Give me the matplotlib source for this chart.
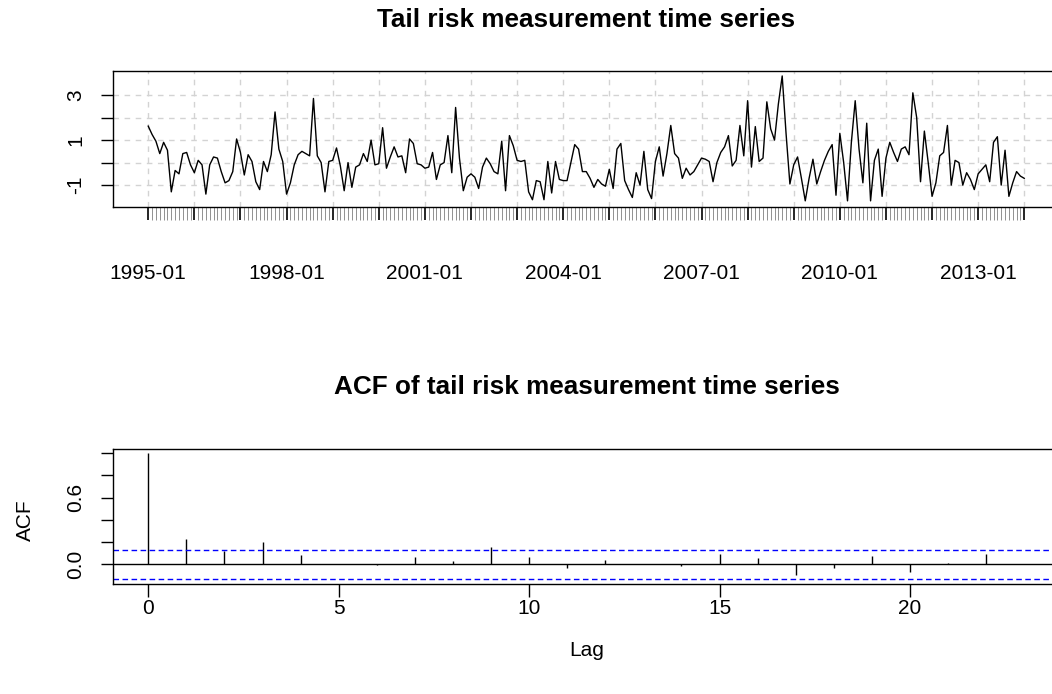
import matplotlib

matplotlib.use("Agg")
import matplotlib.pyplot as plt
import numpy as np

# monthly tail risk measure, 1995-01 .. 2014-01 (one row per year)
tail_risk = [
    1.62, 1.25, 0.95, 0.40, 0.90, 0.55, -1.30, -0.35, -0.50, 0.40, 0.45, -0.10,
    -0.45, 0.10, -0.10, -1.40, -0.10, 0.25, 0.20, -0.40, -0.90, -0.80, -0.40, 1.05,
    0.45, -0.55, 0.35, 0.05, -0.85, -1.20, 0.05, -0.40, 0.35, 2.25, 0.60, 0.05,
    -1.40, -0.90, -0.10, 0.35, 0.50, 0.40, 0.30, 2.85, 0.30, 0.00, -1.30, 0.05,
    0.10, 0.65, -0.15, -1.25, 0.00, -1.10, -0.20, -0.10, 0.40, 0.05, 1.00, -0.10,
    -0.05, 1.55, -0.25, 0.25, 0.70, 0.25, 0.30, -0.45, 1.05, 0.85, -0.05, -0.10,
    -0.25, -0.20, 0.45, -0.75, -0.10, 0.00, 1.20, -0.45, 2.45, 0.20, -1.25, -0.65,
    -0.50, -0.65, -1.15, -0.20, 0.20, -0.05, -0.40, -0.50, 0.95, -1.25, 1.20, 0.75,
    0.10, 0.05, 0.10, -1.30, -1.65, -0.80, -0.85, -1.65, 0.05, -1.35, 0.05, -0.75,
    -0.80, -0.80, 0.00, 0.80, 0.60, -0.40, -0.40, -0.70, -1.10, -0.75, -0.95, -1.05,
    -0.30, -1.15, 0.60, 0.85, -0.80, -1.20, -1.55, -0.45, -1.00, 0.50, -1.20, -1.60,
    0.05, 0.70, -0.60, 0.40, 1.65, 0.40, 0.20, -0.70, -0.25, -0.55, -0.40, -0.10,
    0.20, 0.15, 0.05, -0.85, 0.00, 0.45, 0.70, 1.20, -0.15, 0.10, 1.65, 0.30,
    2.75, -0.20, 1.60, 0.05, 0.20, 2.70, 1.50, 1.00, 2.60, 3.85, 1.30, -0.95,
    -0.10, 0.25, -0.70, -1.70, -0.70, 0.15, -0.95, -0.40, 0.10, 0.50, 0.80, -1.45,
    1.30, 0.00, -1.70, 0.90, 2.75, 0.60, -0.90, 1.75, -1.70, 0.10, 0.60, -1.50,
    0.20, 0.90, 0.45, 0.05, 0.60, 0.70, 0.35, 3.10, 2.00, -0.85, 1.40, 0.00,
    -1.50, -0.90, 0.30, 0.45, 1.65, -1.00, 0.10, 0.00, -1.00, -0.45, -0.75, -1.20,
    -0.50, -0.30, -0.10, -0.85, 0.90, 1.15, -1.00, 0.55, -1.50, -0.90, -0.40, -0.60,
    -0.70,
]
start_year = 1995
label_years = [1995, 1998, 2001, 2004, 2007, 2010, 2013]

# sample autocorrelations, lag 0..23
acf_lags = list(range(24))
acf_values = [
    1.000, 0.224, 0.119, 0.197, 0.081, 0.005, -0.004, 0.066, 0.027, 0.152,
    0.066, -0.030, 0.042, 0.003, -0.018, 0.093, 0.054, -0.093, -0.030, 0.078,
    -0.069, 0.015, 0.090, 0.002,
]
acf_ci = 0.129


def px(v):
    # pixels -> points at dpi 100
    return v * 0.72


def main():
    plt.rcParams["font.family"] = ["Liberation Sans", "DejaVu Sans"]
    W, H = 1052, 694
    fig = plt.figure(figsize=(W / 100, H / 100), dpi=100)

    left, right = 113.2, 1059.3
    ax1 = fig.add_axes([left / W, 1 - 206.7 / H, (right - left) / W, (206.7 - 71) / H])
    ax2 = fig.add_axes([left / W, 1 - 584.3 / H, (right - left) / W, (584.3 - 449) / H])

    # ---- time series ----
    t = start_year + np.arange(len(tail_risk)) / 12.0
    ax1.plot(t, tail_risk, color="black", lw=1.0)
    ax1.set_xlim(t[0] - 0.04 * (t[-1] - t[0]), t[-1] + 0.04 * (t[-1] - t[0]))
    ax1.set_ylim(-1.96, 4.07)

    years = list(range(start_year, int(t[-1]) + 1))
    ax1.set_xticks(years)
    ax1.set_xticklabels([f"{y}-01" if y in label_years else "" for y in years])
    ax1.set_xticks(t, minor=True)
    ax1.set_yticks([-1, 0, 1, 2, 3])
    ax1.set_yticklabels(["-1", "", "1", "", "3"])
    ax1.grid(True, which="major", color="#d3d3d3", linestyle=(0, (4, 4)), lw=1.0)
    ax1.set_axisbelow(True)

    ax1.tick_params(axis="x", which="major", length=px(12.5), width=1.2,
                    pad=32, labelsize=15)
    ax1.tick_params(axis="x", which="minor", length=px(12.5), width=0.6,
                    color="#808080")
    ax1.tick_params(axis="y", length=px(12.5), width=1.0, pad=11,
                    labelsize=15, labelrotation=90)
    for lab in ax1.get_yticklabels():
        lab.set_va("center")

    # ---- ACF ----
    ax2.vlines(acf_lags, 0, acf_values, color="black", lw=1.0)
    ax2.axhline(0, color="black", lw=1.0)
    ax2.axhline(acf_ci, color="#0000ff", lw=1.0, linestyle=(0, (4, 2.5)))
    ax2.axhline(-acf_ci, color="#0000ff", lw=1.0, linestyle=(0, (4, 2.5)))
    n_lag = acf_lags[-1]
    ax2.set_xlim(-0.04 * n_lag, n_lag * 1.04)
    ax2.set_ylim(-0.178, 1.035)
    ax2.set_xticks([0, 5, 10, 15, 20])
    ax2.set_yticks([0.0, 0.2, 0.4, 0.6, 0.8, 1.0])
    ax2.set_yticklabels(["0.0", "", "", "0.6", "", ""])
    ax2.tick_params(axis="x", length=px(13), width=1.0, pad=1.0, labelsize=15)
    ax2.tick_params(axis="y", length=px(12.5), width=1.0, pad=11,
                    labelsize=15, labelrotation=90)
    for lab in ax2.get_yticklabels():
        lab.set_va("center")

    for ax in (ax1, ax2):
        for sp in ax.spines.values():
            sp.set_linewidth(1.0)

    # titles and axis names, placed like the R output
    fig.text(586.5 / W, 1 - 20 / H, "Tail risk measurement time series",
             ha="center", va="center", fontsize=18.8, fontweight="bold")
    fig.text(586.5 / W, 1 - 387 / H, "ACF of tail risk measurement time series",
             ha="center", va="center", fontsize=18.8, fontweight="bold")
    fig.text(25 / W, 1 - 520 / H, "ACF", rotation=90, ha="center", va="center",
             fontsize=15)
    fig.text(586.5 / W, 1 - 650 / H, "Lag", ha="center", va="center", fontsize=15)

    fig.savefig("out.png", dpi=100)


if __name__ == "__main__":
    main()
